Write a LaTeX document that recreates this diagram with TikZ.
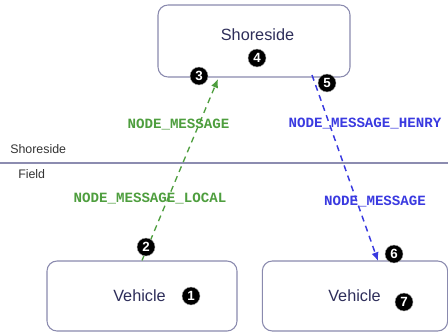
\documentclass[tikz,border=0pt]{standalone}
\usepackage{fontspec}
\setmainfont{Liberation Sans}
\newfontfamily\monob{Liberation Mono}
\usetikzlibrary{arrows.meta}
\definecolor{boxline}{HTML}{8A8AAE}
\definecolor{boxtext}{HTML}{2E2E5A}
\definecolor{msggreen}{HTML}{4E9E3E}
\definecolor{msgblue}{HTML}{3A3AE0}
\definecolor{sepline}{HTML}{8C8CB0}
\tikzset{
  box/.style={draw=boxline, line width=0.8pt, rounded corners=7.5pt, fill=white},
  boxlabel/.style={text=boxtext, font=\fontsize{12.2}{14}\selectfont, inner sep=0pt},
  badge/.style={circle, fill=black, draw=gray!60, line width=0.3pt, minimum size=13.5pt, inner sep=0pt,
    text=white, font=\bfseries\fontsize{10}{11}\selectfont},
  greenmsg/.style={text=msggreen, font=\monob\bfseries\fontsize{10.6}{12}\selectfont, inner sep=0pt},
  bluemsg/.style={text=msgblue, font=\monob\bfseries\fontsize{10.6}{12}\selectfont, inner sep=0pt},
  greenarrow/.style={draw=msggreen, line width=1pt, dash pattern=on 4.5pt off 3.5pt, -{Latex[length=6.5pt,width=5.5pt]}},
  bluearrow/.style={draw=msgblue, line width=1.1pt, dash pattern=on 4.5pt off 3.5pt, -{Latex[length=6.5pt,width=5.5pt]}},
  zonelabel/.style={text=black!80, font=\fontsize{9.3}{11}\selectfont, inner sep=0pt, anchor=west},
}
\begin{document}
\begin{tikzpicture}[x=0.75pt, y=-0.75pt]
\useasboundingbox (0,0) rectangle (448,332);
% separator
\coordinate (sepL) at (0,163);
\coordinate (sepR) at (448,163);
\draw[sepline, line width=1.1pt] (sepL) -- (sepR);
\node[zonelabel] (zshore) at (10,149) {Shoreside};
\node[zonelabel] (zfield) at (18,174) {Field};
% boxes
\node[box, minimum width=144pt, minimum height=54pt] (shore) at (254,41) {};
\node[box, minimum width=142.5pt, minimum height=52.5pt] (v1) at (142,296) {};
\node[box, minimum width=139pt, minimum height=52.5pt] (v2) at (355,296) {};
\node[boxlabel] (tshore) at (257.5,35) {Shoreside};
\node[boxlabel] (tv1) at (139.5,296) {Vehicle};
\node[boxlabel] (tv2) at (354.5,296) {Vehicle};
% connector end points
\coordinate (gtop) at (218,79);
\coordinate (bstart) at (312,75);
\coordinate (bend) at (378,261);
\draw[greenarrow] (v1.north) -- (gtop);
\draw[bluearrow] (bstart) -- (bend);
% message labels
\node[greenmsg] (gm1) at (178.5,124.5) {NODE\_MESSAGE};
\node[greenmsg] (gm2) at (150,199) {NODE\_MESSAGE\_LOCAL};
\node[bluemsg] (bm1) at (365,123.5) {NODE\_MESSAGE\_HENRY};
\node[bluemsg] (bm2) at (375,202) {NODE\_MESSAGE};
% badges
\node[badge] (b1) at (191,296) {1};
\node[badge] (b2) at (146,247) {2};
\node[badge] (b3) at (199,76) {3};
\node[badge] (b4) at (257,58) {4};
\node[badge] (b5) at (327,83) {5};
\node[badge] (b6) at (394,254) {6};
\node[badge] (b7) at (404,302) {7};
\end{tikzpicture}
\end{document}
